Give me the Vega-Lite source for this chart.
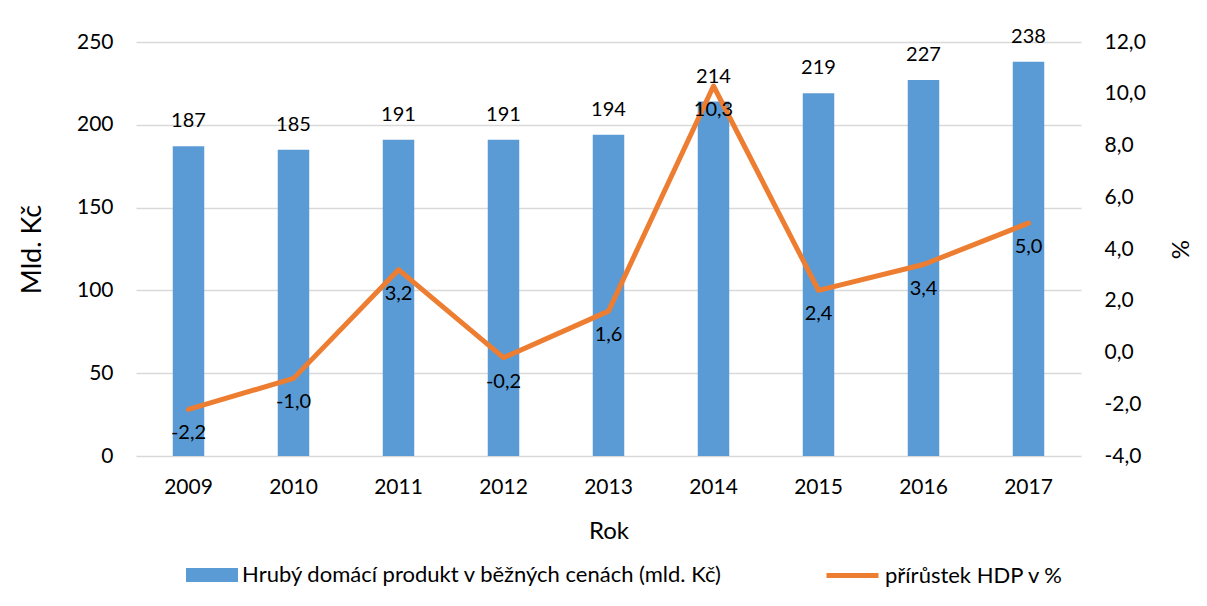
{
  "$schema": "https://vega.github.io/schema/vega-lite/v6.json",
  "width": 945,
  "height": 414,
  "autosize": "none",
  "padding": {"left": 136, "top": 42, "right": 126, "bottom": 150},
  "background": "white",
  "config": {
    "font": "Lato",
    "view": {"stroke": null},
    "locale": {"number": {"decimal": ",", "thousands": " ", "grouping": [3], "currency": ["", " Kč"], "minus": "-"}},
    "axis": {"labelFont": "Lato", "labelFontSize": 21, "labelColor": "#000", "titleFont": "Lato", "titleFontSize": 24, "titleFontWeight": "normal", "titleColor": "#000", "ticks": false, "domain": false, "gridColor": "#d9d9d9", "gridWidth": 1.5},
    "legend": {"labelFont": "Lato", "labelFontSize": 22, "labelColor": "#000", "padding": 0, "symbolOffset": 0, "labelLimit": 1000}
  },
  "data": {"values": [
    {"rok": "2009", "hdp": 187, "prirustek": -2.2},
    {"rok": "2010", "hdp": 185, "prirustek": -1.0},
    {"rok": "2011", "hdp": 191, "prirustek": 3.2},
    {"rok": "2012", "hdp": 191, "prirustek": -0.2},
    {"rok": "2013", "hdp": 194, "prirustek": 1.6},
    {"rok": "2014", "hdp": 214, "prirustek": 10.3},
    {"rok": "2015", "hdp": 219, "prirustek": 2.4},
    {"rok": "2016", "hdp": 227, "prirustek": 3.4},
    {"rok": "2017", "hdp": 238, "prirustek": 5.0}
  ]},
  "encoding": {
    "x": {"field": "rok", "type": "nominal", "scale": {"paddingInner": 0.7, "paddingOuter": 0.35},
      "axis": {"title": "Rok", "labelAngle": 0, "labelPadding": 20, "titlePadding": 22, "grid": false}}
  },
  "layer": [
    {
      "layer": [
        {
          "mark": {"type": "bar"},
          "encoding": {
            "y": {"field": "hdp", "type": "quantitative", "scale": {"domain": [0, 250], "nice": false},
              "axis": {"title": "Mld. Kč", "titleFontSize": 27, "values": [0, 50, 100, 150, 200, 250], "labelPadding": 23, "titlePadding": 30, "grid": true}},
            "color": {"datum": "Hrubý domácí produkt v běžných cenách (mld. Kč)", "type": "nominal",
              "scale": {"range": ["#5B9BD5"]},
              "legend": {"title": null, "orient": "none", "legendX": 50, "legendY": 507, "symbolType": "M-1,-0.27H1V0.27H-1Z", "symbolSize": 2704, "symbolStrokeWidth": 0, "labelOffset": 4}}
          }
        },
        {
          "mark": {"type": "text", "dy": -25, "baseline": "middle", "fontSize": 20, "font": "Lato", "color": "#000"},
          "encoding": {
            "y": {"field": "hdp", "type": "quantitative"},
            "text": {"field": "hdp", "type": "quantitative", "format": "d"}
          }
        }
      ]
    },
    {
      "layer": [
        {
          "mark": {"type": "line", "strokeWidth": 5, "strokeCap": "round", "strokeJoin": "round"},
          "encoding": {
            "y": {"field": "prirustek", "type": "quantitative", "scale": {"domain": [-4, 12], "nice": false},
              "axis": {"orient": "right", "title": "%", "titleAngle": 270, "values": [-4, -2, 0, 2, 4, 6, 8, 10, 12], "format": ".1f", "labelPadding": 23, "titlePadding": 48, "grid": false}},
            "stroke": {"datum": "přírůstek HDP v %", "type": "nominal",
              "scale": {"range": ["#ED7D31"]},
              "legend": {"title": null, "orient": "none", "legendX": 688, "legendY": 505, "symbolType": "stroke", "symbolSize": 2704, "symbolStrokeWidth": 5, "labelOffset": 4}}
          }
        },
        {
          "mark": {"type": "text", "dy": 24, "baseline": "middle", "fontSize": 20, "font": "Lato", "color": "#000"},
          "encoding": {
            "y": {"field": "prirustek", "type": "quantitative"},
            "text": {"field": "prirustek", "type": "quantitative", "format": ".1f"}
          }
        }
      ]
    }
  ],
  "resolve": {"scale": {"y": "independent"}}
}
